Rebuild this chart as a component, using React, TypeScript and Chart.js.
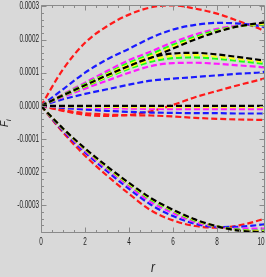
import React, { useEffect, useRef } from "react";
import { Chart, registerables } from "chart.js";

Chart.register(...registerables);

// radial coordinate r
const R = [0, 1, 2, 3, 4, 5, 6, 7, 8, 9, 10, 10.2];

// values of F_i in units of 1e-4
// group 1 (upper)
const red1 = [0, 1.1, 1.9, 2.4, 2.75, 2.97, 3.03, 2.93, 2.78, 2.55, 2.3, 2.23];
const blue1 = [0, 0.5, 1.0, 1.4, 1.72, 2.05, 2.3, 2.44, 2.5, 2.48, 2.4, 2.36];
const magenta1 = [0, 0.35, 0.7, 1.05, 1.38, 1.64, 1.92, 2.15, 2.32, 2.42, 2.45, 2.45];
const green1 = [0, 0.33, 0.66, 0.98, 1.3, 1.56, 1.84, 2.08, 2.28, 2.4, 2.45, 2.46];
const yellow1 = [0, 0.32, 0.63, 0.95, 1.25, 1.5, 1.78, 2.03, 2.25, 2.4, 2.47, 2.48];
const black1 = [0, 0.3, 0.6, 0.9, 1.2, 1.45, 1.73, 2.0, 2.23, 2.4, 2.5, 2.52];
// group 2 (middle)
const red2 = [0, -0.15, -0.27, -0.3, -0.27, -0.16, 0.03, 0.26, 0.45, 0.63, 0.8, 0.84];
const blue2 = [0, 0.2, 0.36, 0.5, 0.64, 0.76, 0.82, 0.87, 0.92, 0.97, 1.01, 1.03];
const magenta2 = [0, 0.27, 0.52, 0.76, 1.0, 1.2, 1.29, 1.3, 1.27, 1.22, 1.17, 1.16];
const green2 = [0, 0.3, 0.58, 0.86, 1.12, 1.33, 1.44, 1.46, 1.42, 1.35, 1.28, 1.26];
const yellow2 = [0, 0.31, 0.6, 0.89, 1.16, 1.39, 1.51, 1.53, 1.48, 1.41, 1.33, 1.31];
const black2 = [0, 0.32, 0.62, 0.92, 1.2, 1.45, 1.58, 1.6, 1.55, 1.47, 1.38, 1.36];
// group 3 (near zero)
const red3 = [0, -0.13, -0.22, -0.26, -0.28, -0.29, -0.32, -0.36, -0.39, -0.41, -0.42, -0.42];
const blue3 = [0, -0.06, -0.11, -0.15, -0.18, -0.2, -0.21, -0.22, -0.22, -0.23, -0.23, -0.23];
const magenta3 = [0, -0.03, -0.05, -0.07, -0.08, -0.09, -0.1, -0.1, -0.1, -0.1, -0.1, -0.1];
const green3 = [0, -0.01, -0.02, -0.025, -0.03, -0.03, -0.03, -0.03, -0.03, -0.03, -0.03, -0.03];
const yellow3 = [0, -0.01, -0.02, -0.03, -0.035, -0.04, -0.04, -0.04, -0.04, -0.04, -0.04, -0.04];
const black3 = [0, 0, 0, 0, 0, 0, 0, 0, 0, 0, 0, 0];
// group 4 (lower)
const red4 = [0, -0.8, -1.5, -2.1, -2.65, -3.15, -3.45, -3.62, -3.67, -3.6, -3.43, -3.38];
const blue4 = [0, -0.75, -1.4, -1.97, -2.5, -2.98, -3.32, -3.55, -3.65, -3.64, -3.58, -3.56];
const magenta4 = [0, -0.72, -1.35, -1.9, -2.42, -2.9, -3.23, -3.5, -3.64, -3.7, -3.7, -3.69];
const green4 = [0, -0.7, -1.31, -1.86, -2.37, -2.83, -3.17, -3.46, -3.63, -3.73, -3.76, -3.76];
const yellow4 = [0, -0.69, -1.3, -1.84, -2.35, -2.8, -3.15, -3.44, -3.63, -3.75, -3.78, -3.79];
const black4 = [0, -0.68, -1.28, -1.82, -2.32, -2.78, -3.13, -3.42, -3.63, -3.76, -3.8, -3.81];

const Y_TICKS = [-3, -2, -1, 0, 1, 2, 3];
const Y_TICK_LABELS = ["-0.0003", "-0.0002", "-0.0001", "0.0000", "0.0001", "0.0002", "0.0003"];
const X_TICKS = [0, 2, 4, 6, 8, 10];
const X_TICK_LABELS = ["0", "2", "4", "6", "8", "10"];
const X_MINOR_STEP = 0.5;
const Y_MINOR_STEP = 0.2;
const X_TITLE = "r";
const Y_TITLE_MAIN = "F";
const Y_TITLE_SUB = "i";

const RED = "#ff1a1a";
const BLUE = "#1a1aff";
const MAGENTA = "#ff1aff";
const GREEN = "#1aff1a";
const YELLOW = "#ffff1a";
const BLACK = "#000000";
const BG = "#d9d9d9";
const FRAME = "#8a8a8a";
const TEXT = "#1e1e1e";

// bottom-to-top drawing order
const SERIES: { color: string; values: number[] }[] = [
  { color: RED, values: red1 },
  { color: BLUE, values: blue1 },
  { color: MAGENTA, values: magenta1 },
  { color: GREEN, values: green1 },
  { color: YELLOW, values: yellow1 },
  { color: BLACK, values: black1 },
  { color: RED, values: red2 },
  { color: BLUE, values: blue2 },
  { color: MAGENTA, values: magenta2 },
  { color: GREEN, values: green2 },
  { color: YELLOW, values: yellow2 },
  { color: BLACK, values: black2 },
  { color: RED, values: red3 },
  { color: BLUE, values: blue3 },
  { color: MAGENTA, values: magenta3 },
  { color: GREEN, values: green3 },
  { color: YELLOW, values: yellow3 },
  { color: BLACK, values: black3 },
  { color: RED, values: red4 },
  { color: BLUE, values: blue4 },
  { color: MAGENTA, values: magenta4 },
  { color: GREEN, values: green4 },
  { color: YELLOW, values: yellow4 },
  { color: BLACK, values: black4 },
];

const W = 266;
const H = 277;

const framePlugin = {
  id: "mmaFrame",
  beforeDraw(chart: any) {
    const { ctx, width, height } = chart;
    ctx.save();
    ctx.fillStyle = BG;
    ctx.fillRect(0, 0, width, height);
    ctx.restore();
  },
  afterDraw(chart: any) {
    const { ctx, chartArea: a, scales } = chart;
    const xs = scales.x;
    const ys = scales.y;
    const L = Math.round(a.left) + 0.5;
    const Rr = Math.round(a.right) - 0.5;
    const T = Math.round(a.top) + 0.5;
    const B = Math.round(a.bottom) - 0.5;
    ctx.save();
    ctx.strokeStyle = FRAME;
    ctx.lineWidth = 1;
    ctx.beginPath();
    ctx.rect(L, T, Rr - L, B - T);
    ctx.stroke();

    // x ticks (major + minor), bottom and top, inward
    ctx.beginPath();
    for (let v = xs.min; v <= xs.max + 1e-9; v += X_MINOR_STEP) {
      const isMajor = X_TICKS.some((t) => Math.abs(t - v) < 1e-6);
      const len = isMajor ? 5 : 2.5;
      const px = Math.round(xs.getPixelForValue(v)) + 0.5;
      ctx.moveTo(px, B);
      ctx.lineTo(px, B - len);
      ctx.moveTo(px, T);
      ctx.lineTo(px, T + len);
    }
    // y ticks
    const yStart = Math.ceil(ys.min / Y_MINOR_STEP - 1e-6) * Y_MINOR_STEP;
    for (let v = yStart; v <= ys.max + 1e-9; v += Y_MINOR_STEP) {
      const isMajor = Y_TICKS.some((t) => Math.abs(t - v) < 1e-6);
      const len = isMajor ? 5 : 2.5;
      const py = Math.round(ys.getPixelForValue(v)) + 0.5;
      ctx.moveTo(L, py);
      ctx.lineTo(L + len, py);
      ctx.moveTo(Rr, py);
      ctx.lineTo(Rr - len, py);
    }
    ctx.stroke();

    // tick labels (condensed)
    ctx.fillStyle = TEXT;
    ctx.font = "10px 'Liberation Sans', Arial, sans-serif";
    const squeeze = 0.64;
    ctx.textBaseline = "middle";
    ctx.textAlign = "right";
    Y_TICKS.forEach((t, i) => {
      const py = ys.getPixelForValue(t);
      ctx.save();
      ctx.translate(a.left - 2, py);
      ctx.scale(squeeze, 1);
      ctx.fillText(Y_TICK_LABELS[i], 0, 0);
      ctx.restore();
    });
    ctx.textAlign = "center";
    X_TICKS.forEach((t, i) => {
      const px = xs.getPixelForValue(t);
      ctx.save();
      ctx.translate(px, a.bottom + 9);
      ctx.scale(squeeze, 1);
      ctx.fillText(X_TICK_LABELS[i], 0, 0);
      ctx.restore();
    });

    // x title
    ctx.save();
    ctx.font = "italic 15px 'Liberation Sans', Arial, sans-serif";
    ctx.textAlign = "center";
    ctx.textBaseline = "alphabetic";
    ctx.translate((a.left + a.right) / 2, 272);
    ctx.scale(0.8, 1);
    ctx.fillText(X_TITLE, 0, 0);
    ctx.restore();

    // y title (rotated, with subscript)
    ctx.save();
    ctx.translate(8, (a.top + a.bottom) / 2 + 4);
    ctx.rotate(-Math.PI / 2);
    ctx.textBaseline = "alphabetic";
    ctx.textAlign = "left";
    ctx.font = "italic 10px 'Liberation Sans', Arial, sans-serif";
    ctx.fillText(Y_TITLE_MAIN, -4, 0);
    const fw = ctx.measureText(Y_TITLE_MAIN).width;
    ctx.font = "italic 7px 'Liberation Sans', Arial, sans-serif";
    ctx.fillText(Y_TITLE_SUB, -4 + fw, 2.5);
    ctx.restore();

    ctx.restore();
  },
};

export default function App() {
  const canvasRef = useRef<HTMLCanvasElement | null>(null);

  useEffect(() => {
    const canvas = canvasRef.current;
    if (!canvas) return;
    const datasets = SERIES.map((s) => ({
      data: R.map((x, i) => ({ x, y: s.values[i] })),
      borderColor: s.color,
      backgroundColor: s.color,
      borderWidth: 2.2,
      borderDash: [6, 3],
      pointRadius: 0,
      fill: false,
      cubicInterpolationMode: "monotone" as const,
    })).reverse();

    const chart = new Chart(canvas, {
      type: "line",
      data: { datasets },
      options: {
        animation: false,
        responsive: false,
        devicePixelRatio: 1,
        maintainAspectRatio: false,
        layout: { padding: { top: 5, right: 1, left: 0, bottom: 0 } },
        plugins: { legend: { display: false }, tooltip: { enabled: false }, title: { display: false } },
        scales: {
          x: {
            type: "linear",
            min: 0,
            max: 10.18,
            grid: { display: false },
            border: { display: false },
            ticks: { display: false },
            afterFit: (scale: any) => {
              scale.height = 44;
            },
          },
          y: {
            type: "linear",
            min: -3.83,
            max: 3.04,
            grid: { display: false },
            border: { display: false },
            ticks: { display: false },
            afterFit: (scale: any) => {
              scale.width = 41;
            },
          },
        },
      },
      plugins: [framePlugin],
    });
    return () => chart.destroy();
  }, []);

  return (
    <div style={{ position: "fixed", left: 0, top: 0, width: W, height: H, background: BG }}>
      <canvas ref={canvasRef} width={W} height={H} style={{ display: "block", width: W, height: H }} />
    </div>
  );
}
